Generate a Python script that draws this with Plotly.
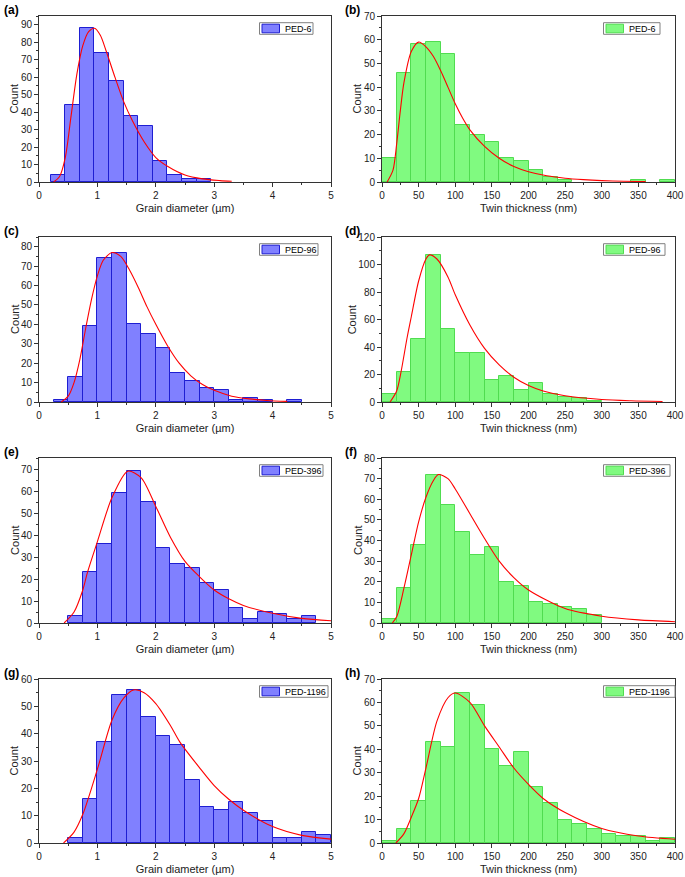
import plotly.graph_objects as go

# ---------------- data ----------------
# Grain diameter histograms (bin width 0.25 um)
grain_width = 0.25
a_start = 0.2
a_counts = [4, 44, 88, 74, 58, 38, 32, 12, 4, 2, 2]
c_start = 0.25
c_counts = [1, 13, 39, 74, 77, 40, 35, 28, 15, 11, 7, 6, 1, 2, 1, 0, 1]
e_start = 0.5
e_counts = [3, 23, 36, 59, 69, 55, 34, 27, 25, 18, 15, 7, 2, 5, 4, 2, 3]
g_start = 0.5
g_counts = [2, 16, 37, 54, 56, 46, 39, 36, 23, 13, 12, 15, 11, 8, 2, 2, 4, 3]

# Twin thickness histograms (bin width 20 nm)
twin_width = 20
b_start = 0
b_counts = [10, 46, 58, 59, 54, 24, 20, 17, 10, 9, 5, 2, 1, 0, 0, 0, 0, 1, 0, 1]
d_start = 0
d_counts = [6, 22, 46, 107, 53, 36, 36, 16, 19, 9, 14, 6, 4, 3, 1]
f_start = 0
f_counts = [2, 17, 38, 72, 57, 44, 33, 37, 20, 18, 10, 9, 8, 7, 4]
h_start = 0
h_counts = [1, 6, 18, 43, 41, 64, 59, 40, 33, 39, 24, 17, 10, 8, 6, 4, 3, 3, 1, 2]

# Fitted curves
a_fit_x = [0.25, 0.35, 0.45, 0.55, 0.65, 0.75, 0.85, 0.95, 1.05, 1.15, 1.3, 1.45, 1.6, 1.8, 2.0, 2.2, 2.5, 2.8, 3.1, 3.3]
a_fit_y = [0, 3, 14, 38, 62, 78, 86, 88, 84, 75, 60, 46, 35, 23, 14, 9, 4, 1.8, 0.8, 0.4]
b_fit_x = [7, 15, 20, 25, 30, 40, 50, 60, 70, 80, 90, 100, 110, 120, 140, 160, 180, 200, 225, 250, 275, 300, 330, 360]
b_fit_y = [0, 5, 16, 30, 42, 55, 59, 57, 53, 47, 40, 33, 27, 22, 15, 10, 6.5, 4.3, 2.6, 1.6, 1.0, 0.6, 0.3, 0.2]
c_fit_x = [0.38, 0.5, 0.6, 0.7, 0.8, 0.9, 1.0, 1.1, 1.25, 1.4, 1.55, 1.7, 1.85, 2.0, 2.2, 2.4, 2.6, 2.8, 3.0, 3.3, 3.6, 3.9, 4.25]
c_fit_y = [0, 3, 10, 22, 38, 53, 65, 73, 77, 75, 68, 59, 49, 40, 29, 20, 13.5, 9, 6, 3, 1.6, 0.8, 0.3]
d_fit_x = [11, 20, 26, 34, 40, 50, 60, 65, 75, 90, 100, 120, 140, 160, 180, 200, 220, 250, 300, 340, 383]
d_fit_y = [0, 8, 22, 46, 62, 88, 104, 107, 104, 91, 78, 56, 39, 27, 18, 12, 8, 4.5, 1.8, 0.9, 0.4]
e_fit_x = [0.43, 0.6, 0.75, 0.83, 1.0, 1.25, 1.52, 1.75, 2.0, 2.25, 2.5, 2.75, 3.0, 3.25, 3.5, 4.0, 4.5, 5.0]
e_fit_y = [0, 5, 15, 23, 37, 57, 69, 66, 53, 39, 28, 21, 15, 11, 8, 4.4, 2.1, 1]
f_fit_x = [14, 20, 30, 40, 50, 60, 70, 77, 90, 100, 120, 140, 160, 180, 200, 250, 300, 350, 400]
f_fit_y = [0, 3, 17, 33, 49, 61, 69, 72, 70, 65, 53, 41, 30, 22, 16, 7, 3.3, 1.5, 0.6]
g_fit_x = [0.42, 0.6, 0.75, 1.0, 1.25, 1.45, 1.62, 1.8, 2.0, 2.25, 2.41, 2.75, 3.0, 3.25, 3.5, 4.0, 4.5, 5.0]
g_fit_y = [0, 4, 10.5, 27, 45, 53, 56, 55, 51, 43, 37, 27.5, 21, 16, 12, 6, 2.8, 1.4]
h_fit_x = [19, 30, 40, 50, 60, 75, 90, 100, 120, 140, 160, 180, 200, 220, 250, 300, 350, 400]
h_fit_y = [0, 4, 11, 19, 32, 52, 62, 64, 60, 50, 41, 32, 25, 19, 13, 6.2, 3, 1.6]

labels = ["(a)", "(b)", "(c)", "(d)", "(e)", "(f)", "(g)", "(h)"]
names = ["PED-6", "PED-6", "PED-96", "PED-96", "PED-396", "PED-396", "PED-1196", "PED-1196"]
grain_title = "Grain diameter (µm)"
twin_title = "Twin thickness (nm)"
y_title = "Count"
y_max = [95, 70, 85, 120, 75, 80, 60, 70]
y_dtick = [10, 10, 10, 20, 10, 10, 10, 10]

# ---------------- styling ----------------
W, H = 685, 877
FONT = "Arial, 'Liberation Sans', sans-serif"
blue_fill = "rgb(128,128,255)"
blue_line = "rgb(30,30,210)"
green_fill = "rgb(128,250,128)"
green_line = "rgb(80,220,80)"
AX = "#333333"
TXT = "#222222"

col_x = [(39, 331), (382, 675)]
row_y = [(16, 182), (237, 402), (458, 623), (679, 843)]

# approximate Arial advance widths (em) for legend box sizing
CW = {"P": 0.667, "E": 0.667, "D": 0.722, "-": 0.333}


def text_w(s, size):
    return sum(CW.get(ch, 0.556) for ch in s) * size


def px(x):
    return x / W


def py(y):
    return 1 - y / H


panels = [
    (a_start, grain_width, a_counts, a_fit_x, a_fit_y),
    (b_start, twin_width, b_counts, b_fit_x, b_fit_y),
    (c_start, grain_width, c_counts, c_fit_x, c_fit_y),
    (d_start, twin_width, d_counts, d_fit_x, d_fit_y),
    (e_start, grain_width, e_counts, e_fit_x, e_fit_y),
    (f_start, twin_width, f_counts, f_fit_x, f_fit_y),
    (g_start, grain_width, g_counts, g_fit_x, g_fit_y),
    (h_start, twin_width, h_counts, h_fit_x, h_fit_y),
]

fig = go.Figure()
layout = dict(
    width=W, height=H,
    margin=dict(l=0, r=0, t=0, b=0),
    paper_bgcolor="white", plot_bgcolor="white",
    font=dict(family=FONT, size=10, color="black"),
    showlegend=False,
    bargap=0,
)
annotations = []
shapes = []

for i, (start, width, counts, fx, fy) in enumerate(panels):
    r, c = divmod(i, 2)
    grain = (c == 0)
    ax = "" if i == 0 else str(i + 1)
    xa, ya = "x" + ax, "y" + ax
    centers = [start + width * (k + 0.5) for k in range(len(counts))]
    bx = [cx for cx, v in zip(centers, counts) if v > 0]
    by = [v for v in counts if v > 0]
    fill = blue_fill if grain else green_fill
    edge = blue_line if grain else green_line
    fig.add_trace(go.Bar(
        x=bx, y=by, width=width, name=names[i],
        marker=dict(color=fill, line=dict(color=edge, width=1)),
        xaxis=xa, yaxis=ya,
    ))
    fig.add_trace(go.Scatter(
        x=fx, y=fy, mode="lines", line=dict(color="red", width=1.1, shape="spline", smoothing=0.8),
        xaxis=xa, yaxis=ya, hoverinfo="skip",
    ))
    x0, x1 = col_x[c]
    yt, yb = row_y[r]
    axis_common = dict(
        showline=True, linecolor=AX, linewidth=1, mirror=True,
        ticks="outside", ticklen=4, tickwidth=1, tickcolor=AX,
        showgrid=False, zeroline=False, automargin=False,
        tickfont=dict(family=FONT, size=10, color=TXT),
    )
    layout["xaxis" + ax] = dict(
        axis_common, domain=[px(x0), px(x1)], anchor=ya,
        range=[0, 5] if grain else [0, 400],
        dtick=1 if grain else 50, tick0=0,
        minor=dict(ticks="outside", ticklen=2, dtick=0.5 if grain else 25, tickcolor=AX),
        title=dict(text=grain_title if grain else twin_title,
                   font=dict(family=FONT, size=11, color=TXT), standoff=4),
    )
    layout["yaxis" + ax] = dict(
        axis_common, domain=[py(yb), py(yt)], anchor=xa,
        range=[0, y_max[i]], dtick=y_dtick[i], tick0=0,
        minor=dict(ticks="outside", ticklen=2, dtick=y_dtick[i] / 2, tickcolor=AX),
    )
    # y title as rotated annotation (closer to tick labels than plotly's standoff allows)
    ndig = len(str(int(y_max[i] // y_dtick[i] * y_dtick[i])))
    ty_x = x0 - 6 - ndig * 5.56 - 7.5
    annotations.append(dict(
        text=y_title, x=px(ty_x), y=py((yt + yb) / 2), xref="paper", yref="paper",
        xanchor="center", yanchor="middle", textangle=-90, showarrow=False,
        font=dict(family=FONT, size=11, color=TXT),
    ))
    # legend box drawn as shapes
    bl = x1 - 71.5
    bt = yt + 6.7
    bbm = yt + 18.3
    tx = bl + 23
    br = tx + text_w(names[i], 9) + (4 if grain else 7)
    shapes.append(dict(type="rect", xref="paper", yref="paper",
                       x0=px(bl), x1=px(br), y0=py(bbm), y1=py(bt),
                       line=dict(color="#808080", width=1), fillcolor="white", layer="above"))
    shapes.append(dict(type="rect", xref="paper", yref="paper",
                       x0=px(bl + 2.5), x1=px(bl + 20), y0=py(bbm - 1.5), y1=py(bt + 1.5),
                       line=dict(color=edge, width=1), fillcolor=fill, layer="above"))
    annotations.append(dict(
        text=names[i], x=px(tx), y=py((bt + bbm) / 2), xref="paper", yref="paper",
        xanchor="left", yanchor="middle", showarrow=False,
        font=dict(family=FONT, size=9, color="black"),
    ))
    # panel label
    annotations.append(dict(
        text="<b>" + labels[i] + "</b>", x=px(2 if c == 0 else 343),
        y=py(yt - 15), xref="paper", yref="paper",
        xanchor="left", yanchor="top", showarrow=False,
        font=dict(family=FONT, size=12, color="black"),
    ))

layout["annotations"] = annotations
layout["shapes"] = shapes
fig.update_layout(**layout)
fig.write_html("out.html", config={"displayModeBar": False},
               post_script="document.body.style.margin='0';")
